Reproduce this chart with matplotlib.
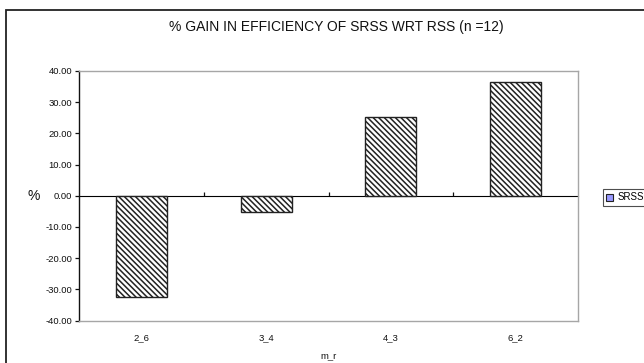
import matplotlib
matplotlib.use("Agg")
import matplotlib.pyplot as plt
from matplotlib.patches import Rectangle, Patch
import numpy as np

categories = ["2_6", "3_4", "4_3", "6_2"]
gain_pct = [-32.6, -5.3, 25.4, 36.5]
series_name = "SRSS"
y_ticks = [-40, -30, -20, -10, 0, 10, 20, 30, 40]

plt.rcParams["font.family"] = ["Liberation Sans", "DejaVu Sans"]
plt.rcParams["hatch.color"] = "#858585"
plt.rcParams["hatch.linewidth"] = 1.1

W, H = 644, 363
fig = plt.figure(figsize=(W / 100, H / 100), dpi=100)
fig.patch.set_facecolor("white")

# plot area in pixel terms
left, right, top, bottom = 79, 578, 71, 320.5
ax = fig.add_axes([left / W, 1 - bottom / H, (right - left) / W, (bottom - top) / H])

x = np.arange(len(categories))
ax.bar(x, gain_pct, width=0.41, facecolor="white", edgecolor="#222222",
       linewidth=1.0, hatch="\\" * 6, zorder=3)

ax.set_xlim(-0.5, len(categories) - 0.5)
ax.set_ylim(min(y_ticks), max(y_ticks))

# y axis: black spine with outward ticks
ax.set_yticks(y_ticks)
ax.set_yticklabels([f"{v:.2f}" for v in y_ticks])
ax.tick_params(axis="y", direction="out", length=3, width=0.9, colors="#111111",
               labelsize=6.8, pad=2)
ax.spines["left"].set_color("#111111")
ax.spines["left"].set_linewidth(1.0)
for s in ("top", "right", "bottom"):
    ax.spines[s].set_color("#a6a6a6")
    ax.spines[s].set_linewidth(1.0)

# category labels below the plot area
ax.set_xticks(x)
ax.set_xticklabels(categories)
ax.tick_params(axis="x", length=0, labelsize=6.8, pad=9, colors="#111111")

# zero line with tick marks between categories
zero_frac = (0 - min(y_ticks)) / (max(y_ticks) - min(y_ticks))
sec = ax.secondary_xaxis(zero_frac)
sec.set_xticks(x[:-1] + 0.5)
sec.set_xticklabels([])
sec.tick_params(axis="x", direction="out", length=3, width=0.9, colors="#111111")
sec.spines["bottom"].set_color("#111111")
sec.spines["bottom"].set_linewidth(1.0)

# titles and axis labels
fig.text(336 / W, 1 - 27 / H, "% GAIN IN EFFICIENCY OF SRSS WRT RSS (n =12)",
         ha="center", va="center", fontsize=10, color="#111111")
fig.text(34 / W, 1 - 196 / H, "%", ha="center", va="center", fontsize=10, color="#111111")
fig.text((left + right) / 2 / W, 1 - 356 / H, "m_r", ha="center", va="center",
         fontsize=6.8, color="#111111")

# legend
handle = Patch(facecolor="#9999ff", edgecolor="#222222", linewidth=0.8, label=series_name)
leg = fig.legend(handles=[handle], loc="center left",
                 bbox_to_anchor=(603 / W, 1 - 197.5 / H), frameon=True, fancybox=False,
                 fontsize=7, handlelength=0.7, handleheight=0.7, handletextpad=0.4,
                 borderpad=0.35, borderaxespad=0)
leg.get_frame().set_edgecolor("#222222")
leg.get_frame().set_linewidth(0.8)

# chart area border (runs off the right and bottom edges)
fig.add_artist(Rectangle((5.5 / W, -0.1), 1.2, 1.1 - 9.5 / H, transform=fig.transFigure,
                         fill=False, edgecolor="#222222", linewidth=1.3, clip_on=False))

fig.savefig("out.png", dpi=100, facecolor="white")
